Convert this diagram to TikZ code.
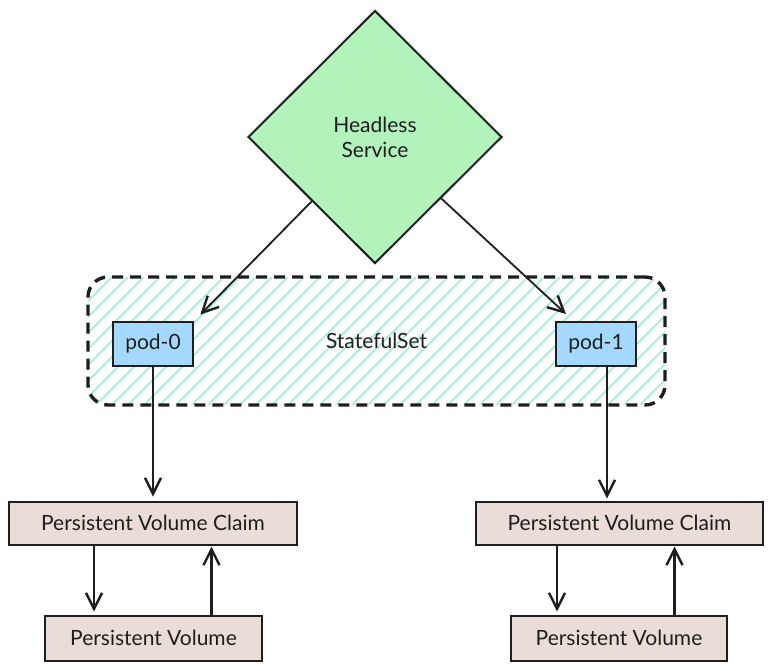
\documentclass[tikz,border=0pt]{standalone}
\usepackage{fontspec}
\setmainfont{Lato}
\usetikzlibrary{positioning,arrows.meta,shapes.geometric}
\definecolor{ink}{HTML}{1E1E1E}
\definecolor{svcgreen}{HTML}{B2F2BB}
\definecolor{podblue}{HTML}{A5D8FF}
\definecolor{volbrown}{HTML}{EADDD7}
\definecolor{hatchteal}{HTML}{96F2D7}

\begin{document}
\begin{tikzpicture}[
  x=1pt, y=-1pt,
  font=\fontsize{21}{25}\selectfont, text=ink,
  svc/.style={diamond, draw=ink, line width=2pt, fill=svcgreen, aspect=1,
              minimum width=254pt, minimum height=253pt, inner sep=0pt, align=center},
  pod/.style={rectangle, draw=ink, line width=2pt, fill=podblue,
              minimum width=80pt, minimum height=44pt, inner sep=2pt},
  vol/.style={rectangle, draw=ink, line width=2pt, fill=volbrown, inner sep=2pt},
  frame/.style={rectangle, rounded corners=20pt, draw=ink, line width=3.4pt,
                dash pattern=on 11pt off 7pt, minimum width=577pt, minimum height=128pt},
  flow/.style={-{Straight Barb[length=16pt,width=16pt,line width=2.4pt]}, draw=ink, line width=2.8pt},
  link/.style={flow, line width=1.8pt}
]
\useasboundingbox (0,0) rectangle (773,670);

% statefulset frame with hatching
\begin{scope}
  \clip[rounded corners=20pt] (88,277) rectangle (665,405);
  \foreach \a in {-128,-112,...,672}
    \draw[hatchteal, line width=1.6pt] (\a,405) -- ++(128,-128);
\end{scope}
\node[frame] (sts) at (376.5,341) {StatefulSet};

\node[svc] (hs) at (375,137) {Headless\\ Service};

\node[pod] (pod0) at (153,344) {pod-0};
\node[pod] (pod1) at (596,344) {pod-1};

\node[vol, minimum width=288pt, minimum height=43pt] (pvc0) at (153,523) {Persistent Volume Claim};
\node[vol, minimum width=217pt, minimum height=45pt] (pv0)  at (153.5,638) {Persistent Volume};
\node[vol, minimum width=287pt, minimum height=43pt] (pvc1) at (619.5,523) {Persistent Volume Claim};
\node[vol, minimum width=216pt, minimum height=45pt] (pv1)  at (619,638) {Persistent Volume};

\draw[link, shorten >=9pt] (hs) -- (pod0.north east);
\draw[link] (hs) -- ([xshift=11pt,yshift=7pt]pod1.north west);

\draw[flow] (pod0.south) -- ([yshift=4pt]pvc0.north);
\draw[flow] ([xshift=11pt]pod1.south) -- ([xshift=11pt,yshift=2pt]pod1.south |- pvc1.north);

\draw[flow] ([xshift=-59pt]pvc0.south) -- ([xshift=-59pt,yshift=3pt]pvc0.south |- pv0.north);
\draw[flow] ([xshift=58pt]pv0.north) -- ([xshift=58pt,yshift=-1pt]pv0.north |- pvc0.south);
\draw[flow] ([xshift=-62.5pt]pvc1.south) -- ([xshift=-62.5pt,yshift=3pt]pvc1.south |- pv1.north);
\draw[flow] ([xshift=55.5pt]pv1.north) -- ([xshift=55.5pt,yshift=-1pt]pv1.north |- pvc1.south);
\end{tikzpicture}
\end{document}
